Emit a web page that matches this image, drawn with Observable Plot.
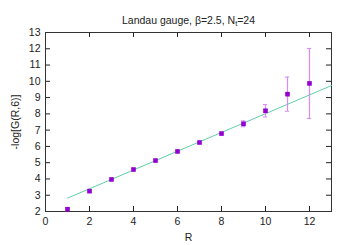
<!DOCTYPE html>
<html>
<head>
<meta charset="utf-8">
<script src="https://cdn.jsdelivr.net/npm/d3@7"></script>
<script src="https://cdn.jsdelivr.net/npm/@observablehq/plot@0.6"></script>
<style>
  html, body { margin: 0; padding: 0; background: #fff; }
  #chart svg { font-family: "Liberation Sans", Arial, sans-serif; }
</style>
</head>
<body>
<div id="chart"></div>
<script>
const R = [1, 2, 3, 4, 5, 6, 7, 8, 9, 10, 11, 12];
const G = [2.14, 3.25, 3.97, 4.58, 5.13, 5.69, 6.24, 6.79, 7.39, 8.19, 9.21, 9.87];
const Gerr = [0.02, 0.03, 0.03, 0.03, 0.04, 0.05, 0.06, 0.08, 0.18, 0.38, 1.05, 2.15];
const fitR = [1, 13];
const fitG = [2.82, 9.74];
const xTicks = [0, 2, 4, 6, 8, 10, 12];
const yTicks = [2, 3, 4, 5, 6, 7, 8, 9, 10, 11, 12, 13];
const titleText = "Landau gauge, β=2.5, N_t=24";

const pts = R.map((r, i) => ({r, g: G[i], e: Gerr[i]}));
const fit = fitR.map((r, i) => ({r, g: fitG[i]}));

const W = 350, H = 245;
const mt = 32, mb = 34, ml = 45, mr = 19;
const fh = H - mt - mb, fw = W - ml - mr;
const purple = "#9400d3";
const errColor = "#d68cf2";
const ink = "#222";

const plot = Plot.plot({
  width: W, height: H,
  marginTop: mt, marginBottom: mb, marginLeft: ml, marginRight: mr,
  style: {fontSize: "10.5px", fontFamily: "Liberation Sans, Arial, sans-serif", color: ink, background: "#fff"},
  x: {domain: [0, 13]},
  y: {domain: [2, 13]},
  marks: [
    Plot.axisX({ticks: xTicks, tickSize: 0, tickPadding: 6, label: "R", labelAnchor: "center", labelArrow: "none", labelOffset: 29, fontSize: 10.5}),
    Plot.axisY({ticks: yTicks, tickSize: 0, tickPadding: 5, label: "-log[G(R,6)]", labelAnchor: "center", labelArrow: "none", labelOffset: 34, fontSize: 10.5}),
    // inward ticks, mirrored
    Plot.tickX(xTicks.filter(d => d > 0), {x: d => d, stroke: ink, insetTop: fh - 5}),
    Plot.tickX(xTicks.filter(d => d > 0), {x: d => d, stroke: ink, insetBottom: fh - 5}),
    Plot.tickY(yTicks.filter(d => d > 2 && d < 13), {y: d => d, stroke: ink, insetRight: fw - 5}),
    Plot.tickY(yTicks.filter(d => d > 2 && d < 13), {y: d => d, stroke: ink, insetLeft: fw - 5}),
    Plot.frame({stroke: "#333", strokeWidth: 1}),
    Plot.line(fit, {x: "r", y: "g", stroke: "#5fcfa6", strokeWidth: 1}),
    Plot.ruleX(pts.filter(d => d.e > 0.1), {x: "r", y1: d => d.g - d.e, y2: d => d.g + d.e, stroke: errColor, strokeWidth: 1.2}),
    Plot.ruleY(pts.filter(d => d.e > 0.1), {y: d => d.g - d.e, x1: d => d.r - 0.1, x2: d => d.r + 0.1, stroke: errColor}),
    Plot.ruleY(pts.filter(d => d.e > 0.1), {y: d => d.g + d.e, x1: d => d.r - 0.1, x2: d => d.r + 0.1, stroke: errColor}),
    Plot.dot(pts, {x: "r", y: "g", symbol: "square", r: 2.6, fill: purple, stroke: "none"}),
    Plot.text([titleText], {frameAnchor: "top", dy: -16, fontSize: 10.5, fill: ink, text: d => d})
  ]
});

document.getElementById("chart").appendChild(plot);

// render the subscript in the title
d3.select(plot).selectAll("text").each(function() {
  const t = d3.select(this);
  if (t.text() === titleText) {
    const [pre, post] = titleText.split("N_t");
    t.text(null);
    t.append("tspan").text(pre + "N");
    t.append("tspan").attr("font-size", 7.5).attr("dy", 2.5).text("t");
    t.append("tspan").attr("dy", -2.5).text(post);
  }
});
</script>
</body>
</html>
